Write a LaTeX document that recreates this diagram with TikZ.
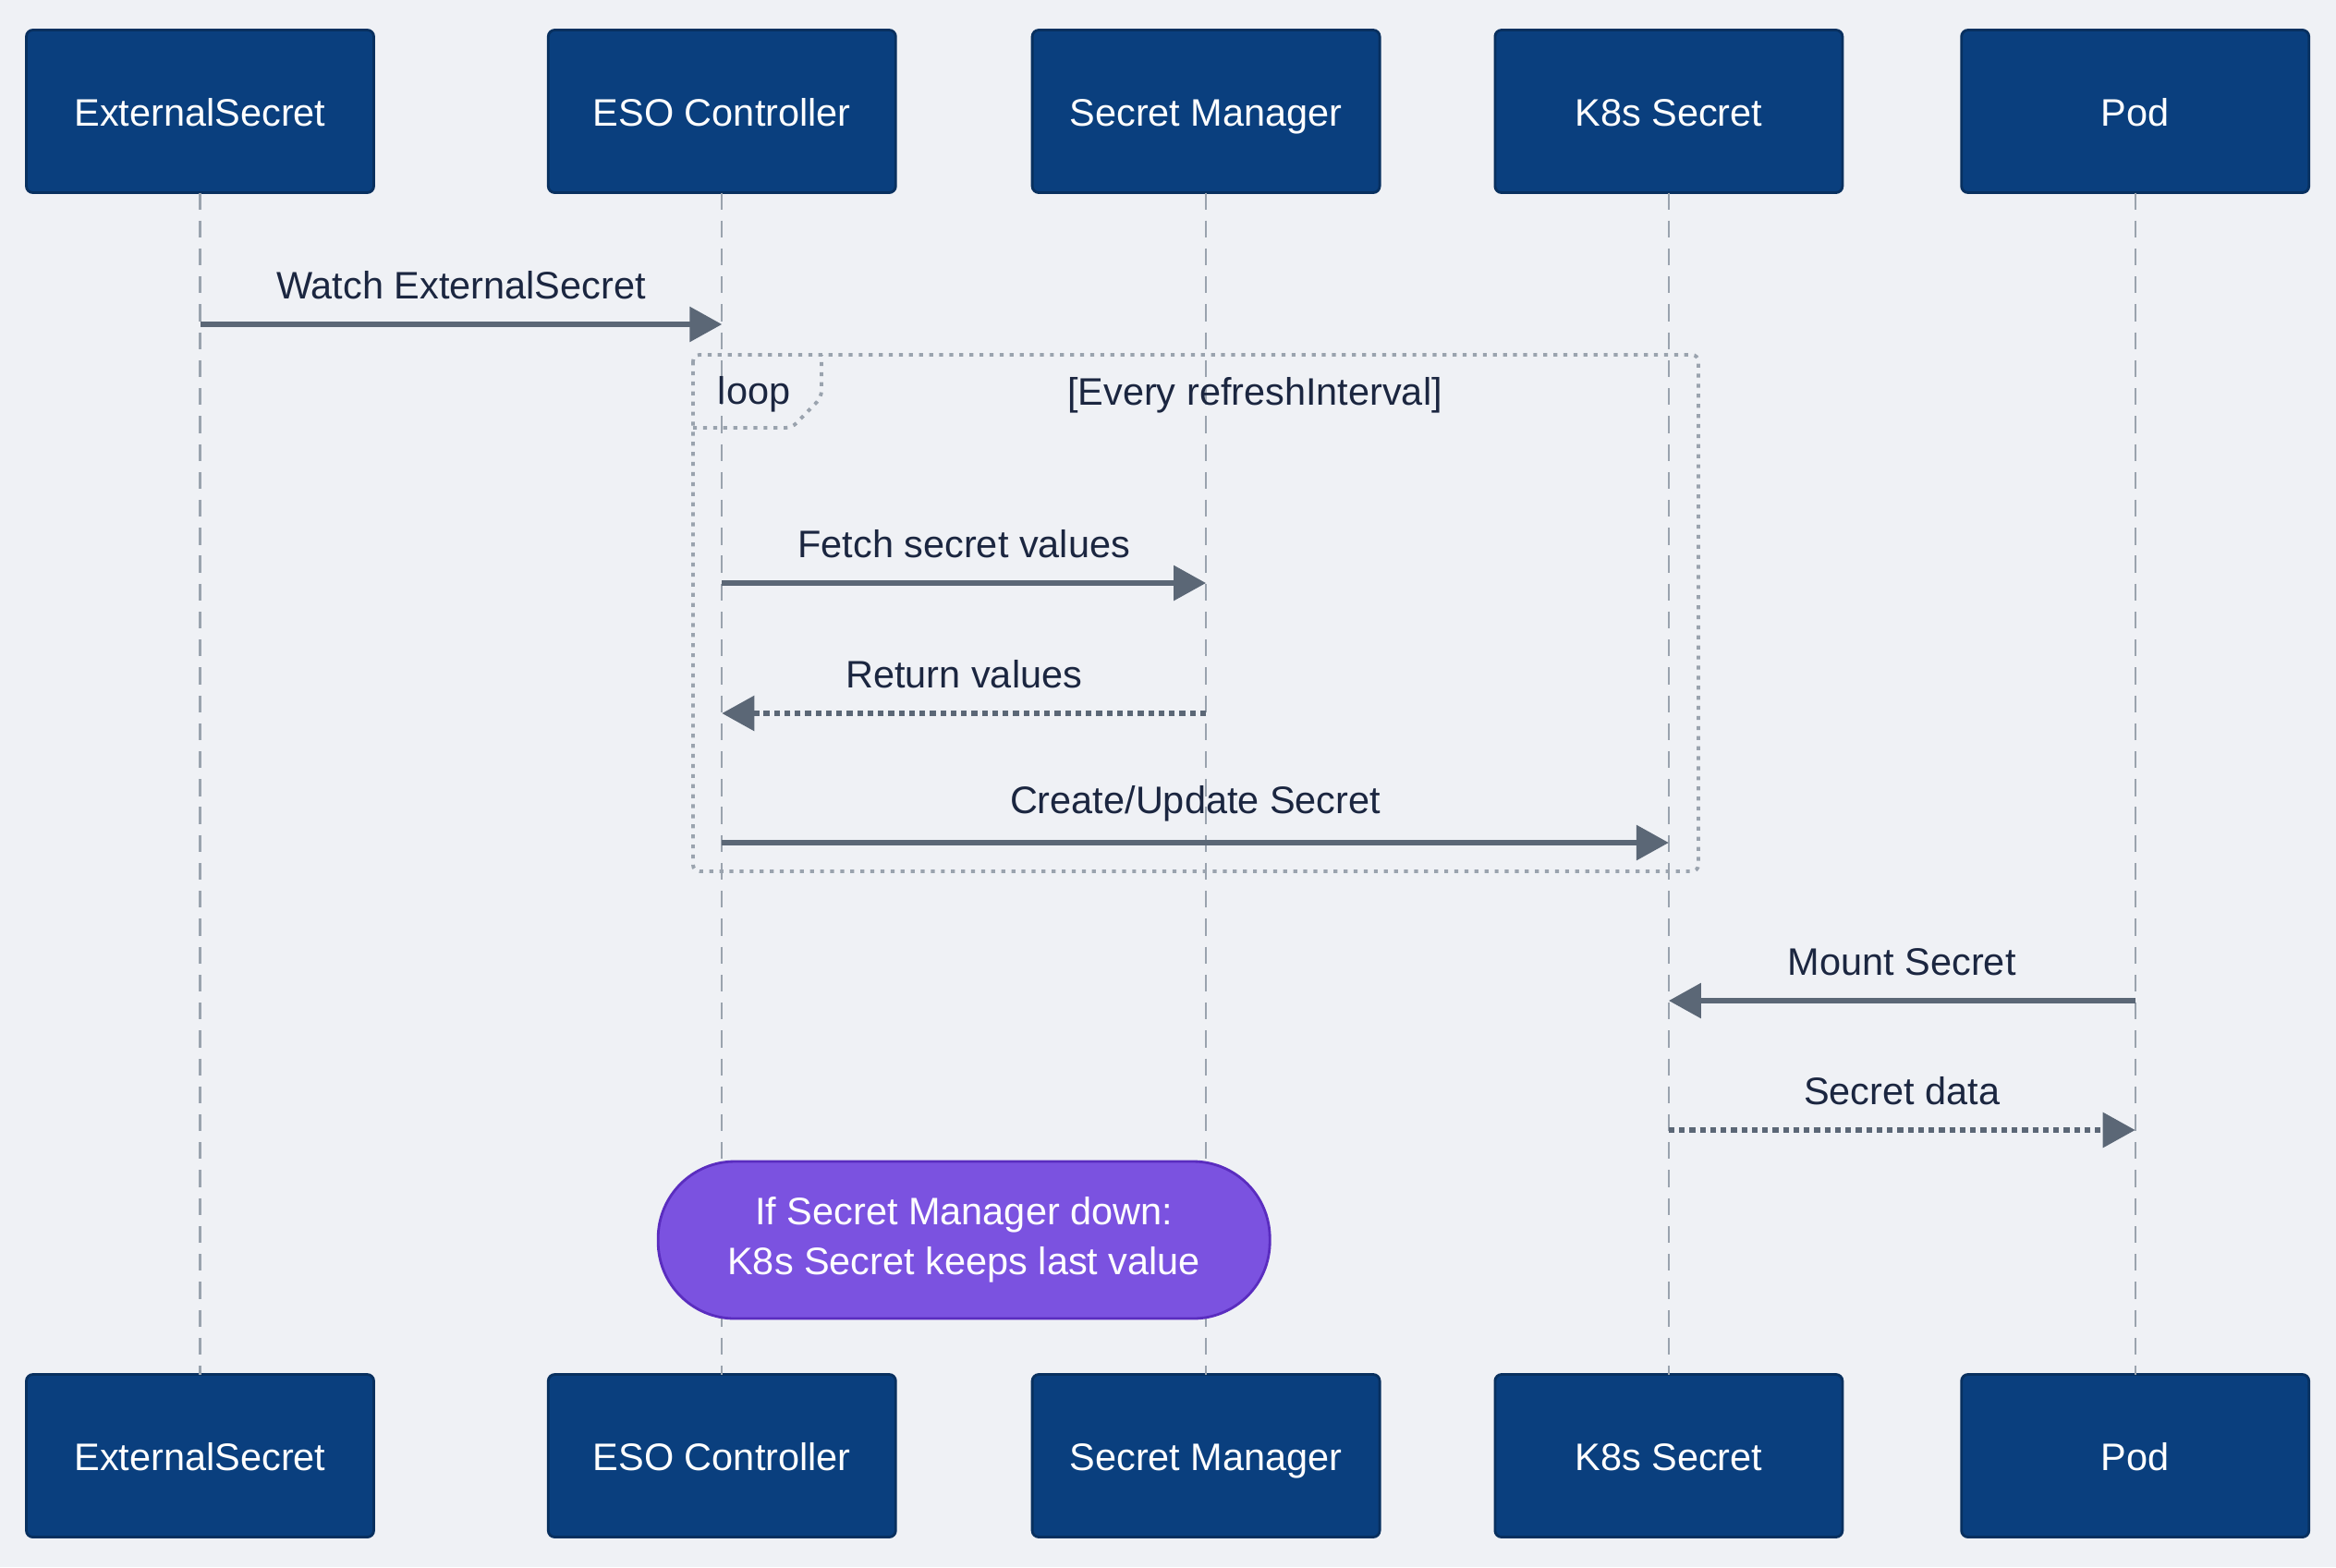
\documentclass[tikz,border=0pt]{standalone}
\usepackage{fontspec}
\setmainfont{Liberation Sans}
\usepackage{tikz}
\usetikzlibrary{arrows.meta, positioning, calc}

\definecolor{page_bg}{HTML}{EFF1F5}
\definecolor{actor_fill}{HTML}{0A3F7E}
\definecolor{actor_line}{HTML}{08305F}
\definecolor{life_gray}{HTML}{9AA3AE}
\definecolor{msg_gray}{HTML}{5B6776}
\definecolor{text_navy}{HTML}{1B2640}
\definecolor{note_fill}{HTML}{7B52E0}
\definecolor{note_line}{HTML}{5A2DBF}

\tikzset{
  base_font/.style = {font=\fontsize{11.8}{15.5}\selectfont},
  actor/.style = {base_font, draw=actor_line, line width=0.8pt, fill=actor_fill,
    text=white, rounded corners=2pt, outer sep=0pt, text height=11.4pt, text depth=2.4pt,
    minimum width=3.76cm, minimum height=1.76cm},
  lifeline/.style = {draw=life_gray, line width=0.65pt, dash pattern=on 5.2pt off 3.4pt},
  msg/.style = {draw=msg_gray, line width=1.7pt,
    -{Triangle[length=0.35cm, width=0.37cm]}},
  reply/.style = {msg, dash pattern=on 1.8pt off 1.4pt},
  msg_label/.style = {base_font, text=text_navy, midway, yshift=0.42cm},
  frame/.style = {draw=life_gray, line width=1.1pt, dash pattern=on 1.2pt off 1.9pt},
  frame_label/.style = {base_font, text=text_navy},
  note/.style = {base_font, align=center, text=white, fill=note_fill, draw=note_line,
    line width=0.8pt, rounded corners=0.83cm, minimum width=6.62cm, minimum height=1.70cm}
}

\begin{document}
\begin{tikzpicture}

        % Background
        \fill[page_bg] (0,0) rectangle (25.28,-16.96);
        \useasboundingbox (0,0) rectangle (25.28,-16.96);

        % Actors
        \node[actor] at (2.165,-1.205) (es) {ExternalSecret};
        \node[actor, right=1.888cm of es] (eso) {ESO Controller};
        \node[actor, right=1.478cm of eso] (sm) {Secret Manager};
        \node[actor, right=1.248cm of sm] (ks) {K8s Secret};
        \node[actor, right=1.288cm of ks] (pod) {Pod};

        \node[actor, below=12.79cm of es] (es_b) {ExternalSecret};
        \node[actor, below=12.79cm of eso] (eso_b) {ESO Controller};
        \node[actor, below=12.79cm of sm] (sm_b) {Secret Manager};
        \node[actor, below=12.79cm of ks] (ks_b) {K8s Secret};
        \node[actor, below=12.79cm of pod] (pod_b) {Pod};

        % Lifelines
        \draw[lifeline] (es) -- (es_b);
        \draw[lifeline] (eso) -- (eso_b);
        \draw[lifeline] (sm) -- (sm_b);
        \draw[lifeline] (ks) -- (ks_b);
        \draw[lifeline] (pod) -- (pod_b);

        % Rows
        \coordinate (r_1) at (0,-3.51);
        \coordinate (r_2) at (0,-6.31);
        \coordinate (r_3) at (0,-7.72);
        \coordinate (r_4) at (0,-9.12);
        \coordinate (r_5) at (0,-10.83);
        \coordinate (r_6) at (0,-12.23);

        % Loop frame
        \coordinate (loop_nw) at (7.50,-3.84);
        \coordinate (loop_se) at (18.38,-9.43);
        \draw[frame, rounded corners=2pt] (loop_nw) rectangle (loop_se);
        \draw[frame, rounded corners=2pt] (loop_nw |- 0,-4.63) -- (8.57,-4.63)
            -- (8.89,-4.30) -- (8.89 ,-3.84);
        \node[frame_label] at (8.16,-4.27) (loop) {loop};
        \node[frame_label] at (13.58,-4.28) (cond) {[Every refreshInterval]};

        % Messages
        \draw[msg] (es |- r_1) -- (eso |- r_1) node[msg_label] {Watch ExternalSecret};
        \draw[msg] (eso |- r_2) -- (sm |- r_2) node[msg_label] {Fetch secret values};
        \draw[reply] (sm |- r_3) -- (eso |- r_3) node[msg_label] {Return values};
        \draw[msg] (eso |- r_4) -- (ks |- r_4) node[msg_label] {Create/Update Secret};
        \draw[msg] (pod |- r_5) -- (ks |- r_5) node[msg_label] {Mount Secret};
        \draw[reply] (ks |- r_6) -- (pod |- r_6) node[msg_label] {Secret data};

        % Note
        \node[note] at ($(eso.center |- 0,-13.42)!0.5!(sm.center |- 0,-13.42)$) (down_note) {
            If Secret Manager down:\\
            K8s Secret keeps last value
            };

\end{tikzpicture}
\end{document}
